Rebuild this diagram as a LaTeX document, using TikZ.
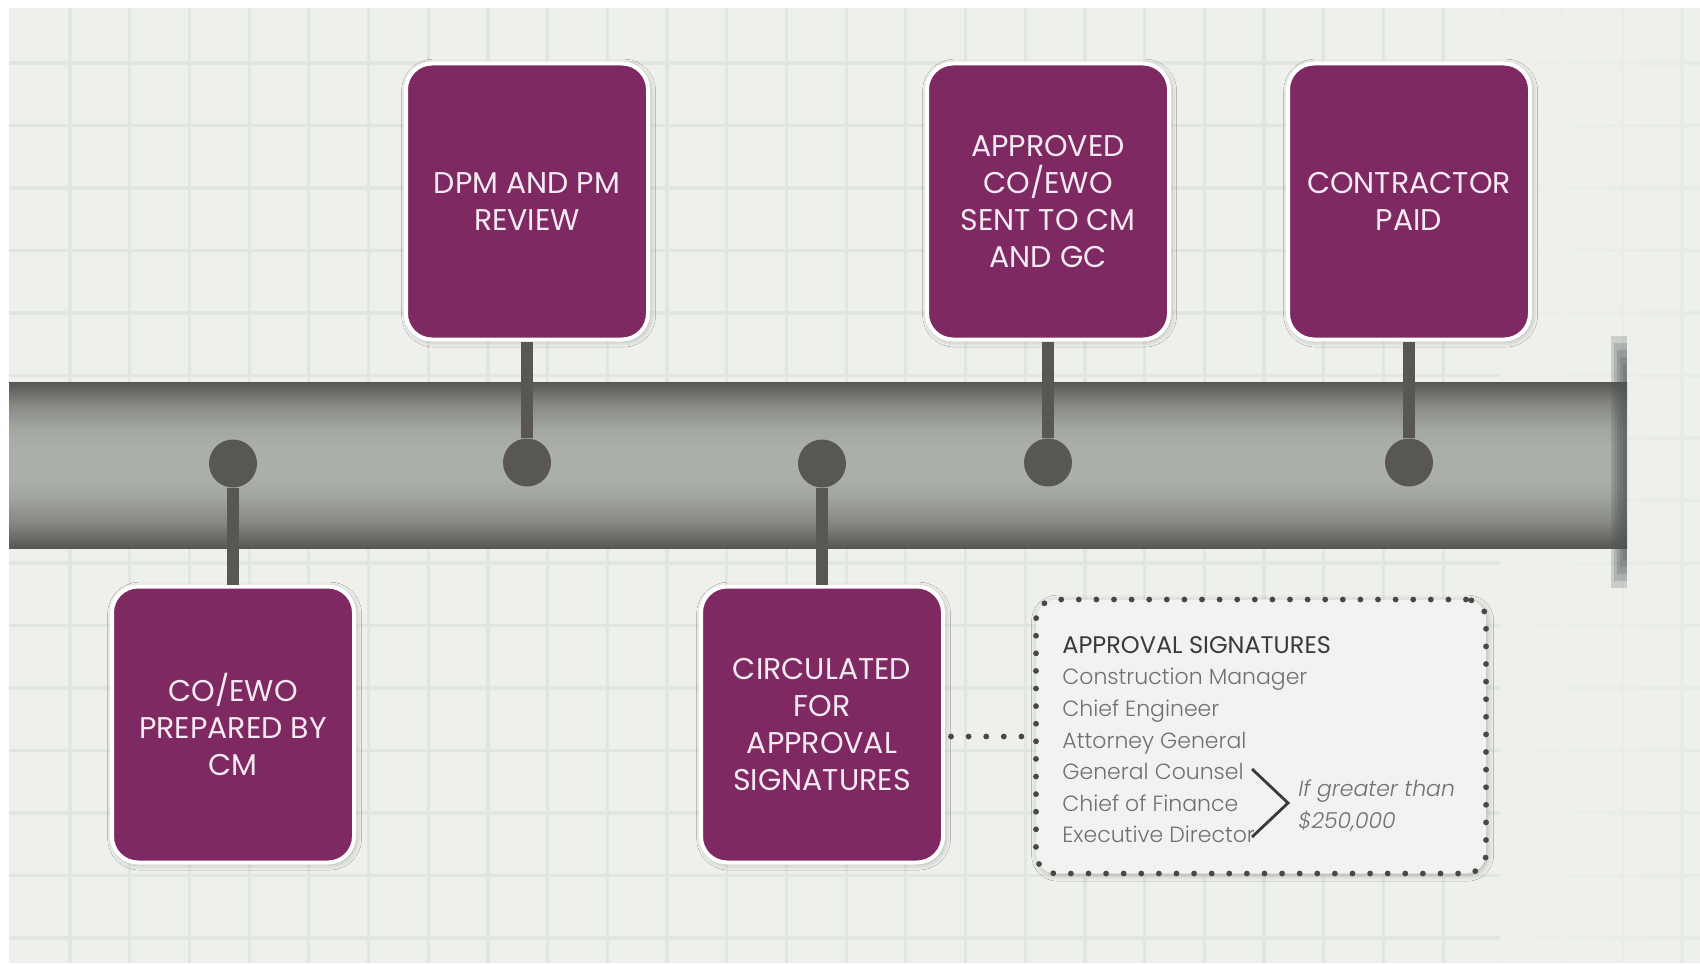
\documentclass[tikz,border=0pt]{standalone}
\usepackage{fontspec}
\setmainfont{Poppins}
\newfontfamily\thinfont{Poppins Light}
\usetikzlibrary{positioning,shadows.blur,fadings}
\definecolor{bg}{RGB}{237,240,235}
\definecolor{gridc}{RGB}{226,230,225}
\definecolor{purp}{RGB}{126,41,98}
\definecolor{boxtxt}{RGB}{246,234,242}
\definecolor{stemc}{RGB}{88,87,83}
\definecolor{bard}{RGB}{86,86,82}
\definecolor{barm}{RGB}{136,138,132}
\definecolor{barn}{RGB}{162,167,160}
\definecolor{barl}{RGB}{170,176,169}
\definecolor{capc}{RGB}{78,84,86}
\definecolor{sigfill}{RGB}{240,243,239}
\definecolor{dotc}{RGB}{72,72,72}
\definecolor{titlec}{RGB}{58,58,58}
\definecolor{listc}{RGB}{112,112,112}
\pgfdeclareverticalshading{barshade}{100bp}{color(0bp)=(bard); color(25bp)=(bard); color(33bp)=(barm);
  color(41bp)=(barn); color(46bp)=(barl); color(55bp)=(barl); color(61bp)=(barn); color(68bp)=(barm);
  color(75bp)=(bard); color(100bp)=(bard)}
\begin{document}
\begin{tikzpicture}[x=0.5pt, y=-0.5pt, node distance=130.5pt,
  box/.style = {draw=white, line width=2pt, fill=purp, rounded corners=13pt,
    minimum width=121pt, minimum height=138pt, align=center, text=boxtxt,
    font=\fontsize{15}{18.5}\selectfont,
    blur shadow={shadow xshift=0.8pt, shadow yshift=-0.8pt, shadow blur radius=3pt, shadow opacity=30}},
  knob/.style = {circle, fill=stemc, minimum size=24pt, inner sep=0pt},
  stem/.style = {stemc, line width=6pt},
  dotline/.style = {draw=dotc, line width=2.9pt, line cap=round, dash pattern=on 0pt off 8.8pt},
  sig/.style = {dotline, fill=sigfill, rounded corners=10pt, minimum width=225pt, minimum height=137pt,
    blur shadow={shadow xshift=0.8pt, shadow yshift=-0.8pt, shadow blur radius=3pt, shadow opacity=25}},
  list/.style = {inner sep=0pt, align=left, text=listc, font=\thinfont\fontsize{11}{15.8}\selectfont}]
\useasboundingbox (0,0) rectangle (1700,963);
\fill[white] (0,0) rectangle (1700,963);
\fill[bg] (9,8) rectangle (1700,963);
% grid
\foreach \i in {0,...,27}
  \draw[gridc, line width=1.6pt] ({70+59.7*\i},8) -- ({70+59.7*\i},963);
\foreach \i in {0,...,14}
  \draw[gridc, line width=1.6pt] (9,{63+62.5*\i}) -- (1700,{63+62.5*\i});
\fill[bg, path fading=east] (1500,8) rectangle (1900,963);

% the bar
\shade[shading=barshade] (9,382) rectangle (1627,548);
\foreach \k in {0,...,4}
  \fill[capc, opacity=0.22] ({1611+3*\k},{336+7*\k}) rectangle (1627,{588-7*\k});

\node[box] (1) at (233,724.5) {CO/EWO\\PREPARED BY\\CM};
\node[box] (2) at (527,201.5) {DPM AND PM\\REVIEW};
\node[box] (3) at (822,724.5) {CIRCULATED\\FOR\\APPROVAL\\SIGNATURES};
\node[box] (4) at (1048,201.5) {APPROVED\\CO/EWO\\SENT TO CM\\AND GC};
\node[box] (5) at (1409,201.5) {CONTRACTOR\\PAID};

\node[knob] (p1) [above of=1] {};
\node[knob] (p2) [below of=2] {};
\node[knob] (p3) [above of=3] {};
\node[knob] (p4) [below of=4] {};
\node[knob] (p5) [below of=5] {};

\draw[stem] (1) -- (p1);
\draw[stem] (2) -- (p2);
\draw[stem] (3) -- (p3);
\draw[stem] (4) -- (p4);
\draw[stem] (5) -- (p5);

\node[sig] (sig) at (1261,736.5) {};
\draw[dotline, shorten <=3pt, shorten >=4pt] (3.east |- sig.west) -- (sig.west);

\node[list, anchor=north west] (names) at (1062,636) {{\rmfamily\fontsize{12}{15.8}\selectfont\color{titlec}APPROVAL SIGNATURES}\\
  Construction Manager\\ Chief Engineer\\ Attorney General\\ General Counsel\\ Chief of Finance\\ Executive Director};
\coordinate (b1) at (1252,769);
\coordinate (b2) at (1288,803);
\coordinate (b3) at (1252,837);
\draw[titlec, line width=1.4pt] (b1) -- (b2) -- (b3);
\node[list, anchor=west] (cond) at (1298,806) {\itshape If greater than\\ \itshape \$250,000};
\end{tikzpicture}
\end{document}
